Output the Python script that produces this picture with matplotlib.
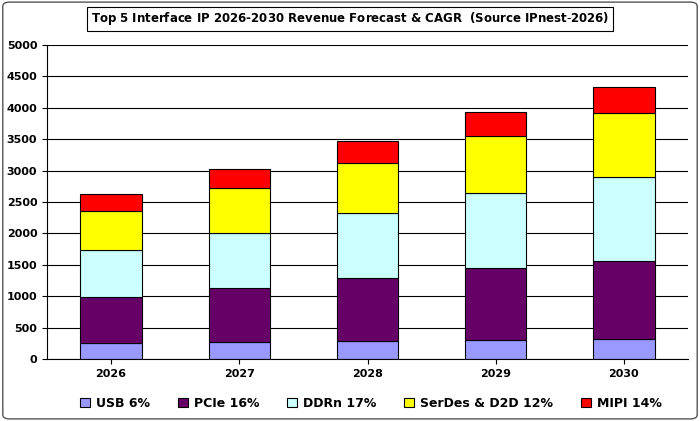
import matplotlib.pyplot as plt
import numpy as np
from matplotlib.patches import FancyBboxPatch

years = ["2026", "2027", "2028", "2029", "2030"]
usb = [255, 270, 287, 303, 318]
pcie = [732, 860, 1003, 1146, 1242]
ddrn = [749, 876, 1035, 1194, 1338]
serdes = [621, 717, 796, 908, 1019]
mipi = [270, 302, 350, 382, 414]

series = [("USB 6%", usb, "#9999ff"), ("PCIe 16%", pcie, "#660066"),
          ("DDRn 17%", ddrn, "#ccffff"), ("SerDes & D2D 12%", serdes, "#ffff00"),
          ("MIPI 14%", mipi, "#ff0000")]

fig = plt.figure(figsize=(7, 4.21), dpi=100)
ax = fig.add_axes([47/700, 1-359/421, 641/700, 314/421])
x = np.arange(len(years))
bottom = np.zeros(len(years))
for name, vals, col in series:
    ax.bar(x, vals, 0.48, bottom=bottom, color=col, edgecolor="black", linewidth=0.8, label=name)
    bottom += vals

ax.set_xlim(-0.5, 4.5)
ax.set_ylim(0, 5000)
ax.set_yticks(range(0, 5001, 500))
ax.set_xticks(x, years)
ax.yaxis.grid(True, color="black", linewidth=0.8)
ax.set_axisbelow(True)
for s in ["top", "right"]:
    ax.spines[s].set_visible(False)
ax.tick_params(labelsize=8)
for lbl in ax.get_xticklabels() + ax.get_yticklabels():
    lbl.set_fontweight("bold")

fig.text(0.5, 0.955, "Top 5 Interface IP 2026-2030 Revenue Forecast & CAGR  $\\mathregular{(Source\\ IPnest\\text{-}2026)}$",
         ha="center", va="center", fontsize=8.5, fontweight="bold",
         bbox=dict(boxstyle="square,pad=0.3", fc="white", ec="black", lw=0.8))

fig.legend(loc="lower center", ncol=5, frameon=False,
           bbox_to_anchor=(0.53, 0.0), handlelength=0.8, handleheight=0.8,
           columnspacing=2.2, handletextpad=0.5, prop={"weight": "bold", "size": 9})

fig.patches.append(FancyBboxPatch((0.004, 0.005), 0.992, 0.99, boxstyle="round,pad=0,rounding_size=0.01",
                                  transform=fig.transFigure, fc="none", ec="#555555", lw=1))
fig.savefig("out.png")
